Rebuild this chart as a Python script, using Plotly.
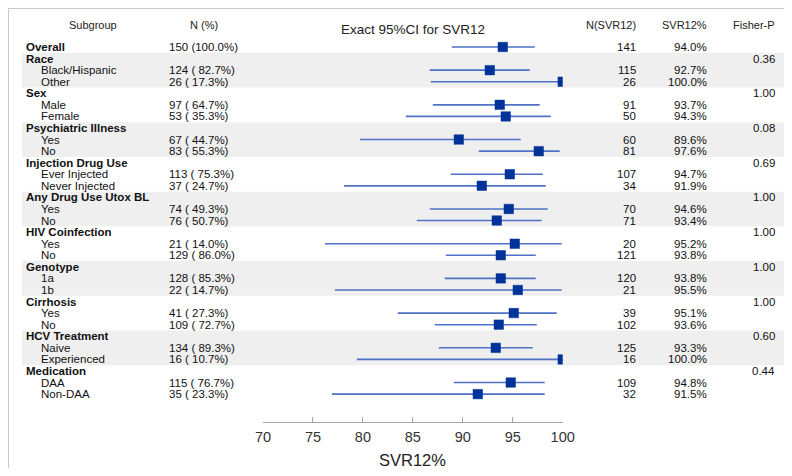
import plotly.graph_objects as go

# ---------------- data ----------------
labels = ["Overall", "Race", "Black/Hispanic", "Other", "Sex", "Male", "Female",
          "Psychiatric Illness", "Yes", "No", "Injection Drug Use", "Ever Injected",
          "Never Injected", "Any Drug Use Utox BL", "Yes", "No", "HIV Coinfection",
          "Yes", "No", "Genotype", "1a", "1b", "Cirrhosis", "Yes", "No",
          "HCV Treatment", "Naive", "Experienced", "Medication", "DAA", "Non-DAA"]
is_header = [1, 1, 0, 0, 1, 0, 0, 1, 0, 0, 1, 0, 0, 1, 0, 0, 1, 0, 0, 1, 0, 0,
             1, 0, 0, 1, 0, 0, 1, 0, 0]
n_pct = ["150 (100.0%)", "", "124 ( 82.7%)", "26 ( 17.3%)", "", "97 ( 64.7%)",
         "53 ( 35.3%)", "", "67 ( 44.7%)", "83 ( 55.3%)", "", "113 ( 75.3%)",
         "37 ( 24.7%)", "", "74 ( 49.3%)", "76 ( 50.7%)", "", "21 ( 14.0%)",
         "129 ( 86.0%)", "", "128 ( 85.3%)", "22 ( 14.7%)", "", "41 ( 27.3%)",
         "109 ( 72.7%)", "", "134 ( 89.3%)", "16 ( 10.7%)", "", "115 ( 76.7%)",
         "35 ( 23.3%)"]
n_svr = ["141", "", "115", "26", "", "91", "50", "", "60", "81", "", "107", "34",
         "", "70", "71", "", "20", "121", "", "120", "21", "", "39", "102", "",
         "125", "16", "", "109", "32"]
svr_pct = [94.0, None, 92.7, 100.0, None, 93.7, 94.3, None, 89.6, 97.6, None,
           94.7, 91.9, None, 94.6, 93.4, None, 95.2, 93.8, None, 93.8, 95.5,
           None, 95.1, 93.6, None, 93.3, 100.0, None, 94.8, 91.5]
ci_lo = [88.9, None, 86.7, 86.8, None, 87.0, 84.3, None, 79.7, 91.6, None,
         88.8, 78.1, None, 86.7, 85.4, None, 76.2, 88.3, None, 88.2, 77.2,
         None, 83.5, 87.2, None, 87.6, 79.4, None, 89.1, 76.9]
ci_hi = [97.2, None, 96.7, 100.0, None, 97.7, 98.8, None, 95.8, 99.7, None,
         98.0, 98.3, None, 98.5, 97.9, None, 99.9, 97.3, None, 97.3, 99.9,
         None, 99.4, 97.4, None, 97.0, 100.0, None, 98.2, 98.2]
fisher_p = ["", "0.36", "", "", "1.00", "", "", "0.08", "", "", "0.69", "", "",
            "1.00", "", "", "1.00", "", "", "1.00", "", "", "1.00", "", "",
            "0.60", "", "", "0.44", "", ""]
shaded_groups = [(2, 4), (8, 10), (14, 16), (20, 22), (26, 28)]
x_ticks = [70, 75, 80, 85, 90, 95, 100]

# ---------------- layout helpers ----------------
# page has an 8px body margin; figure sized to fit the 792x476 window
OX, OY = 8, 8
W, H = 792 - 2 * OX, 476 - 2 * OY
ROW0, DY = 47.0, 11.57
rows = list(range(1, len(labels) + 1))
y_top = 1 + (OY - ROW0) / DY
y_bot = 1 + (OY + H - ROW0) / DY


def px(x):
    return (x - OX) / W


def py(y):
    return 1 - (y - OY) / H


FONT = "Arial, Liberation Sans, sans-serif"
fig = go.Figure()

# CI lines
lx, ly = [], []
for r, lo, hi in zip(rows, ci_lo, ci_hi):
    if lo is None:
        continue
    lx += [lo, hi, None]
    ly += [r, r, None]
fig.add_trace(go.Scatter(x=lx, y=ly, mode="lines",
                         line=dict(color="#4E72C6", width=1.6),
                         hoverinfo="skip", showlegend=False))
# point estimates
mx = [v for v in svr_pct if v is not None]
my = [r for r, v in zip(rows, svr_pct) if v is not None]
fig.add_trace(go.Scatter(x=mx, y=my, mode="markers",
                         marker=dict(symbol="square", size=9.5, color="#003399",
                                     line=dict(color="#003399", width=0.5)),
                         showlegend=False))

shapes = []
for a, b in shaded_groups:
    shapes.append(dict(type="rect", xref="paper", yref="y", x0=px(22), x1=1.02,
                       y0=a - 0.5, y1=b + 0.5, fillcolor="#EFEFEF",
                       line=dict(width=0), layer="below"))
# frame lines (top and left)
shapes.append(dict(type="line", xref="paper", yref="paper", x0=0.5 / W, x1=1.02,
                   y0=1 - 0.5 / H, y1=1 - 0.5 / H,
                   line=dict(color="#C8C8C8", width=1)))
shapes.append(dict(type="line", xref="paper", yref="paper", x0=0.5 / W,
                   x1=0.5 / W, y0=-0.02, y1=1 - 0.5 / H,
                   line=dict(color="#C8C8C8", width=1)))

ann = []


def add_text(x, y, text, anchor="left", size=11.5, color="#111", yref="y"):
    ann.append(dict(x=px(x), y=y, xref="paper", yref=yref, text=text,
                    showarrow=False, xanchor=anchor, yanchor="middle",
                    font=dict(family=FONT, size=size, color=color),
                    borderpad=0))


# headers
add_text(93, py(25), "Subgroup", "center", 11, "#222", "paper")
add_text(204, py(25), "N (%)", "center", 11, "#222", "paper")
add_text(413, py(30), "Exact 95%CI for SVR12", "center", 13.5, "#222", "paper")
add_text(637, py(25), "N(SVR12)", "right", 11, "#222", "paper")
add_text(708, py(25), "SVR12%", "right", 11, "#222", "paper")
add_text(776, py(25), "Fisher-P", "right", 11, "#222", "paper")

for r, lab, hd, npc, ns, sp, fp in zip(rows, labels, is_header, n_pct, n_svr,
                                       svr_pct, fisher_p):
    if hd:
        add_text(25, r, "<b>" + lab + "</b>")
    else:
        add_text(40, r, lab)
    if npc:
        add_text(168, r, npc)
    if ns:
        add_text(637, r, ns, "right")
    if sp is not None:
        add_text(708, r, f"{sp:.1f}%", "right")
    if fp:
        add_text(776, r, fp, "right")

add_text(412, py(460), "SVR12%", "center", 16.5, "#222", "paper")

fig.update_layout(
    width=W, height=H, margin=dict(l=0, r=0, t=0, b=0),
    paper_bgcolor="white", plot_bgcolor="white",
    shapes=shapes, annotations=ann,
    xaxis=dict(range=[70, 100], domain=[px(263), px(562.7)], anchor="free",
               position=py(421.7), showline=True, linecolor="#A8A8A8",
               linewidth=1, ticks="inside", ticklen=5, tickcolor="#A8A8A8",
               tickvals=x_ticks, showgrid=False, zeroline=False,
               automargin=False,
               tickfont=dict(family=FONT, size=14.5, color="#333"),
               ticklabelstandoff=2),
    yaxis=dict(range=[y_bot, y_top], domain=[0, 1], visible=False,
               automargin=False, showgrid=False, zeroline=False),
)
fig.write_html("out.html")
